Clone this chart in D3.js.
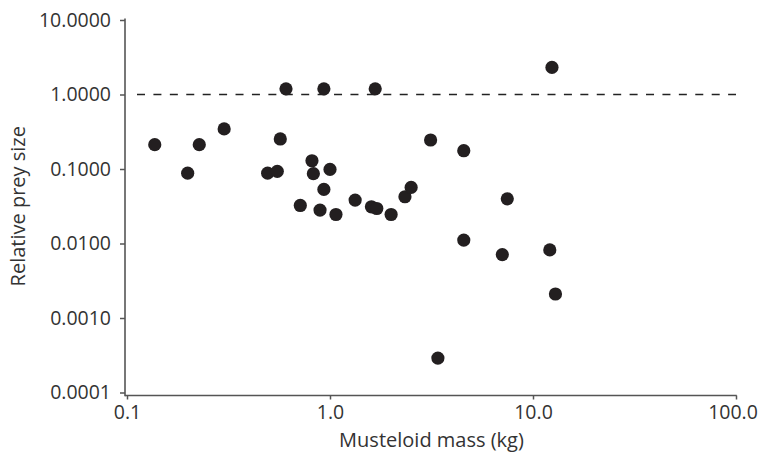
<!DOCTYPE html>
<html>
<head>
<meta charset="utf-8">
<script src="https://cdn.jsdelivr.net/npm/d3@7"></script>
<style>
  html, body { margin: 0; padding: 0; background: #fff; }
  svg { display: block; }
  text { font-family: "Open Sans", "Noto Sans", sans-serif; fill: #333; }
</style>
</head>
<body>
<svg id="chart" width="759" height="454"></svg>
<script>
// Musteloid mass (kg)
const massKg = [0.137, 0.199, 0.227, 0.301, 0.493, 0.550, 0.569, 0.607, 0.714, 0.815,
                0.828, 0.893, 0.933, 0.933, 1.00, 1.07, 1.33, 1.60, 1.70, 1.67,
                2.00, 2.34, 2.51, 3.13, 12.4, 4.56, 7.47, 4.56, 7.06, 12.1,
                12.9, 3.40];
// Relative prey size
const preySize = [0.212, 0.088, 0.212, 0.345, 0.088, 0.093, 0.253, 1.19, 0.0324, 0.129,
                  0.0865, 0.0281, 1.19, 0.0532, 0.0988, 0.0245, 0.0383, 0.0311, 0.0295, 1.19,
                  0.0245, 0.0424, 0.0566, 0.245, 2.31, 0.176, 0.0398, 0.0111, 0.0071, 0.0082,
                  0.0021, 0.00029];
const xTicks = [0.1, 1, 10, 100];
const xTickLabels = ["0.1", "1.0", "10.0", "100.0"];
const yTicks = [10, 1, 0.1, 0.01, 0.001, 0.0001];
const yTickLabels = ["10.0000", "1.0000", "0.1000", "0.0100", "0.0010", "0.0001"];
const referenceLine = 1;

const svg = d3.select("#chart");
const x = d3.scaleLog().domain([0.1, 100]).range([127, 736]);
const y = d3.scaleLog().domain([0.0001, 10]).range([392.5, 20]);

const axisColor = "#555";
const axisX = 125, axisY = 395.5;

// y axis
const gy = svg.append("g").attr("transform", `translate(${axisX},0)`)
  .call(d3.axisLeft(y).tickValues(yTicks).tickFormat((d, i) => yTickLabels[i]).tickSize(5).tickPadding(9));
gy.select(".domain").remove();
gy.selectAll(".tick line").attr("stroke", axisColor).attr("stroke-width", 1.5);
gy.selectAll(".tick text").style("font-size", "19.5px").attr("fill", "#333");

// x axis
const gx = svg.append("g").attr("transform", `translate(0,${axisY})`)
  .call(d3.axisBottom(x).tickValues(xTicks).tickFormat((d, i) => xTickLabels[i]).tickSize(4).tickPadding(6));
gx.select(".domain").remove();
gx.selectAll(".tick line").attr("stroke", axisColor).attr("stroke-width", 1.5);
gx.selectAll(".tick text").style("font-size", "19.5px").attr("fill", "#333")
  .attr("dx", (d, i) => i === xTicks.length - 1 ? -3.5 : 0);

// axis lines
svg.append("line").attr("x1", axisX).attr("x2", axisX).attr("y1", 18.5).attr("y2", axisY + 0.75)
  .attr("stroke", axisColor).attr("stroke-width", 1.6);
svg.append("line").attr("x1", axisX).attr("x2", x(100) + 0.75).attr("y1", axisY).attr("y2", axisY)
  .attr("stroke", axisColor).attr("stroke-width", 1.6);

// reference dashed line
svg.append("line")
  .attr("x1", x(0.1) + 10).attr("x2", x(100))
  .attr("y1", y(referenceLine)).attr("y2", y(referenceLine))
  .attr("stroke", "#222").attr("stroke-width", 1.3).attr("stroke-dasharray", "8,8.42");

// points
svg.append("g").selectAll("circle")
  .data(massKg.map((m, i) => [m, preySize[i]]))
  .join("circle")
  .attr("cx", d => x(d[0]))
  .attr("cy", d => y(d[1]))
  .attr("r", 6.6)
  .attr("fill", "#231f20");

// axis titles
svg.append("text").attr("x", (x(0.1) + x(100)) / 2).attr("y", 447)
  .attr("text-anchor", "middle").style("font-size", "20px").text("Musteloid mass (kg)");
svg.append("text").attr("transform", `translate(25,${(y(10) + y(0.0001)) / 2}) rotate(-90)`)
  .attr("text-anchor", "middle").style("font-size", "20px").text("Relative prey size");
</script>
</body>
</html>
